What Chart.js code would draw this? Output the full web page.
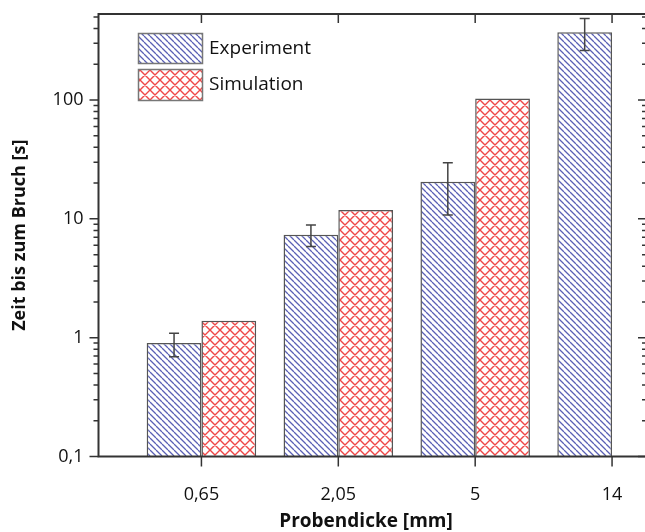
<!DOCTYPE html>
<html><head><meta charset="utf-8">
<style>html,body{margin:0;padding:0;overflow:hidden;background:#fff}#wrap{position:absolute;left:0;top:0;width:650px;height:532px}</style>
<script src="https://cdn.jsdelivr.net/npm/chart.js@4.4.0/dist/chart.umd.min.js"></script>
</head><body><div id="wrap"><canvas id="c"></canvas></div>
<script>
const categories = ['0,65', '2,05', '5', '14'];
const experiment = [0.9, 7.35, 20.5, 372];
const experimentErrLow = [0.69, 5.86, 10.8, 261];
const experimentErrHigh = [1.09, 8.9, 29.6, 485];
const simulation = [1.39, 11.9, 103, null];
const yTickValues = [0.1, 1, 10, 100];
const yTickLabels = ['0,1', '1', '10', '100'];
const seriesNames = ['Experiment', 'Simulation'];
const xTitle = 'Probendicke [mm]';
const yTitle = 'Zeit bis zum Bruch [s]';
const yMin = 0.1, yMax = 530;

const FONT = "'Open Sans', 'Noto Sans', sans-serif";
const AXIS = '#333';

function makeHatch(size, color, lw, cross) {
  const c = document.createElement('canvas');
  c.width = c.height = size;
  const g = c.getContext('2d');
  g.fillStyle = '#fff'; g.fillRect(0, 0, size, size);
  g.strokeStyle = color; g.lineWidth = lw;
  g.beginPath();
  for (const o of [-size, 0, size]) { g.moveTo(o, 0); g.lineTo(o + size, size); }
  if (cross) for (const o of [-size, 0, size]) { g.moveTo(o + size, 0); g.lineTo(o, size); }
  g.stroke();
  return g.createPattern(c, 'repeat');
}
const expPattern = makeHatch(6, '#5a60b5', 1.3, false);
const simPattern = makeHatch(10, '#ef4848', 1.4, true);

const decorPlugin = {
  id: 'decor',
  afterDatasetsDraw(chart) {
    const ctx = chart.ctx;
    const ca = chart.chartArea;
    const ys = chart.scales.y, xs = chart.scales.x;
    ctx.save();
    // error bars
    const meta = chart.getDatasetMeta(0);
    ctx.strokeStyle = '#444'; ctx.lineWidth = 1.5;
    experiment.forEach((v, i) => {
      const bx = meta.data[i].x;
      const yt = ys.getPixelForValue(experimentErrHigh[i]);
      const yb = ys.getPixelForValue(experimentErrLow[i]);
      ctx.beginPath();
      ctx.moveTo(bx, yt); ctx.lineTo(bx, yb);
      ctx.moveTo(bx - 5, yt); ctx.lineTo(bx + 5, yt);
      ctx.moveTo(bx - 5, yb); ctx.lineTo(bx + 5, yb);
      ctx.stroke();
    });
    // axes lines
    ctx.strokeStyle = AXIS; ctx.lineWidth = 2;
    ctx.beginPath();
    ctx.moveTo(ca.left, ca.top); ctx.lineTo(ca.left, ca.bottom);
    ctx.moveTo(ca.left - 1, ca.top); ctx.lineTo(ca.right + 5, ca.top);
    ctx.moveTo(ca.left - 1, ca.bottom); ctx.lineTo(ca.right + 5, ca.bottom);
    ctx.moveTo(ca.right, ca.top); ctx.lineTo(ca.right, ca.bottom);
    ctx.stroke();
    // y ticks
    ctx.lineWidth = 1.5;
    ctx.beginPath();
    yTickValues.forEach(d => {
      const py = ys.getPixelForValue(d);
      ctx.moveTo(ca.left - 9, py); ctx.lineTo(ca.left, py);
      ctx.moveTo(ca.right - 8, py); ctx.lineTo(ca.right, py);
      for (let m = 2; m <= 9; m++) {
        const v = m * d;
        if (v > yMax) break;
        const p = ys.getPixelForValue(v);
        ctx.moveTo(ca.left - 5, p); ctx.lineTo(ca.left, p);
        ctx.moveTo(ca.right - 4, p); ctx.lineTo(ca.right, p);
      }
    });
    // x ticks
    categories.forEach((c, i) => {
      const px = xs.getPixelForValue(i);
      ctx.moveTo(px, ca.bottom); ctx.lineTo(px, ca.bottom + 10);
      ctx.moveTo(px, ca.top); ctx.lineTo(px, ca.top + 9);
    });
    ctx.stroke();
    // legend
    const items = [
      { name: seriesNames[0], fill: expPattern, y: 33.5, h: 30 },
      { name: seriesNames[1], fill: simPattern, y: 69.5, h: 31 }
    ];
    items.forEach(it => {
      ctx.fillStyle = it.fill;
      ctx.fillRect(138.5, it.y, 64, it.h);
      ctx.strokeStyle = '#777'; ctx.lineWidth = 1.5;
      ctx.strokeRect(138.5, it.y, 64, it.h);
      ctx.fillStyle = '#111';
      ctx.font = '19px ' + FONT;
      ctx.textBaseline = 'middle'; ctx.textAlign = 'left';
      ctx.fillText(it.name, 209, it.y + it.h / 2);
    });
    // x title
    ctx.fillStyle = '#111';
    ctx.font = 'bold 19px ' + FONT;
    ctx.textAlign = 'center'; ctx.textBaseline = 'middle';
    ctx.fillText(xTitle, 366, 522);
    ctx.restore();
  }
};

new Chart(document.getElementById('c'), {
  type: 'bar',
  data: {
    datasets: [
      {
        label: seriesNames[0],
        data: experiment.map((v, i) => ({ x: i, y: v })),
        backgroundColor: expPattern,
        borderColor: '#555', borderWidth: 1.5,
        categoryPercentage: 0.8, barPercentage: 1.0
      },
      {
        label: seriesNames[1],
        data: simulation.map((v, i) => ({ x: i, y: v })),
        backgroundColor: simPattern,
        borderColor: '#555', borderWidth: 1.5,
        categoryPercentage: 0.8, barPercentage: 1.0
      }
    ]
  },
  options: {
    responsive: true, maintainAspectRatio: false, animation: false,
    layout: { padding: { left: 0, right: 4, top: 14, bottom: 0 } },
    plugins: { legend: { display: false }, tooltip: { enabled: false } },
    scales: {
      x: {
        type: 'linear', position: 'bottom', min: -0.752, max: 3.248, offset: false,
        grid: { display: false, drawTicks: false }, border: { display: false },
        afterBuildTicks: s => { s.ticks = categories.map((c, i) => ({ value: i })); },
        afterFit: s => { s.height = 75.5; s.paddingLeft = 0; s.paddingRight = 0; },
        ticks: {
          autoSkip: false, maxRotation: 0, padding: 28, color: '#111',
          font: { family: FONT, size: 18 },
          callback: v => categories[v]
        },
        title: { display: false }
      },
      y: {
        type: 'logarithmic', position: 'left', min: yMin, max: yMax,
        grid: { display: false, drawTicks: false }, border: { display: false },
        afterBuildTicks: s => { s.ticks = yTickValues.map(v => ({ value: v })); },
        afterFit: s => { s.width = 98.5; s.paddingTop = 0; s.paddingBottom = 0; },
        ticks: {
          padding: 15, color: '#111', font: { family: FONT, size: 18 },
          callback: v => { const k = yTickValues.indexOf(v); return k >= 0 ? yTickLabels[k] : ''; }
        },
        title: { display: true, text: yTitle, color: '#111',
          font: { family: FONT, size: 18, weight: 'bold' }, padding: { top: 9, bottom: 0 } }
      }
    }
  },
  plugins: [decorPlugin]
});
</script>
</body></html>
